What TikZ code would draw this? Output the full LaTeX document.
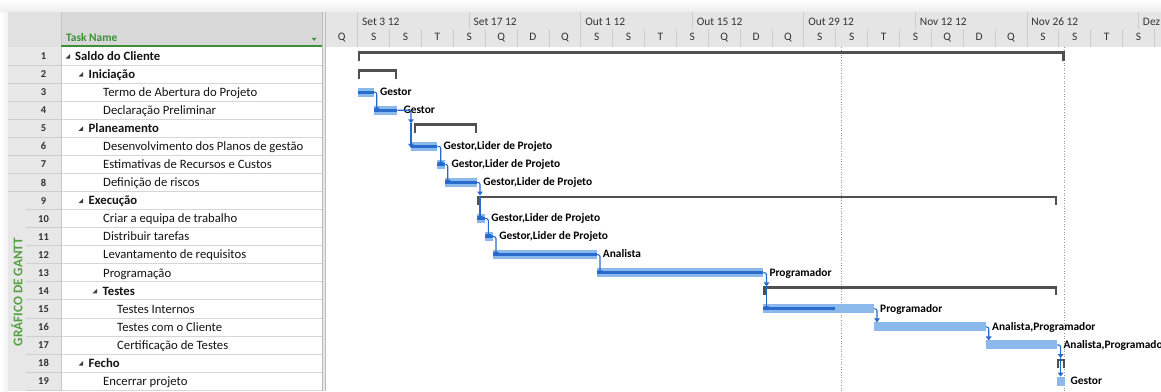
\documentclass[tikz,border=0pt]{standalone}
\usepackage{fontspec}
\setmainfont{Carlito}
\usetikzlibrary{arrows.meta}

\definecolor{barfill}{RGB}{140,185,235}
\definecolor{barprog}{RGB}{42,108,204}
\definecolor{linkblue}{RGB}{38,104,204}
\definecolor{sumgray}{RGB}{80,80,80}
\definecolor{taskhdr}{RGB}{216,216,216}
\definecolor{numhdr}{RGB}{225,225,225}
\definecolor{numcol}{RGB}{231,231,231}
\definecolor{tshdr}{RGB}{229,229,229}
\definecolor{gridline}{RGB}{214,214,214}
\definecolor{numline}{RGB}{206,206,206}
\definecolor{splitline}{RGB}{188,188,188}
\definecolor{tsline}{RGB}{205,205,205}
\definecolor{viewgreen}{RGB}{84,160,66}
\definecolor{hdrgreen}{RGB}{62,142,56}
\definecolor{hdrtext}{RGB}{50,50,50}
\definecolor{tricol}{RGB}{64,64,64}
\definecolor{dotgray}{RGB}{150,150,150}

% vertical centre of a table / chart row (rows are 18.06 units high)
\newcommand{\rowc}[1]{(47+(#1-0.5)*18.06)}

\tikzset{
  bar/.style={rectangle, fill=barfill, draw=none, inner sep=0pt, outer sep=0pt,
              minimum height=9pt, anchor=west},
  prog/.style={barprog, line width=3pt},
  link/.style={linkblue, line width=1.1pt, rounded corners=2pt,
               -{Triangle[width=5.5pt,length=4pt]}},
  summ/.style={sumgray, line width=2.6pt, line join=miter},
  barlbl/.style={anchor=base west, inner sep=0pt,
                 font=\fontsize{11.4}{13}\selectfont\bfseries, text=black},
  tname/.style={anchor=base west, inner sep=0pt,
                font=\fontsize{12.7}{15}\selectfont, text=black!92},
  numlbl/.style={anchor=base, inner sep=0pt,
                 font=\fontsize{10.5}{12}\selectfont\bfseries, text=hdrtext},
  tslbl/.style={anchor=base west, inner sep=0pt,
                font=\fontsize{11.4}{13}\selectfont, text=hdrtext},
}

% a task bar with its resource label
\newcommand{\taskbar}[4]{%
  \node[bar, minimum width={#3-#2}] (b#1) at (#2,{\rowc{#1}}) {};
  \node[barlbl] (l#1) at ({#3+6},{\rowc{#1}+3.3}) {#4};
}
% a summary bracket (optional first argument: stroke width)
\newcommand{\sumbar}[4][2.6]{%
  \draw[summ, line width=#1pt] ({#3+#1/2},{\rowc{#2}+4.5}) -- ({#3+#1/2},{\rowc{#2}-3.5})
    -- ({#4-#1/2},{\rowc{#2}-3.5}) -- ({#4-#1/2},{\rowc{#2}+4.5});
}
% outline collapse glyph in the task table
\newcommand{\collapse}[2]{%
  \fill[tricol] (#1,{\rowc{#2}+2.6}) -- ({#1+4.6},{\rowc{#2}+2.6})
    -- ({#1+4.6},{\rowc{#2}-2}) -- cycle;
}

\begin{document}
\begin{tikzpicture}[x=1pt,y=-1pt]
\useasboundingbox (0,0) rectangle (1161,391);
\clip (0,0) rectangle (1161,391);
\fill[white] (0,0) rectangle (1161,391);
\shade[top color=white,bottom color=black!7] (0,0) rectangle (1161,12);
\shade[left color=white,right color=black!5] (0,12) rectangle (8,391);

% ---------- header bands ----------
\fill[numhdr] (8,12) rectangle (61,47);
\fill[taskhdr] (61,12) rectangle (322,47);
\fill[tshdr] (326,12) rectangle (1161,47);
\fill[numcol] (8,47) rectangle (61,391);

% ---------- table grid ----------
\foreach \r in {1,...,19}
  \draw[gridline, line width=0.8pt] (61,{47+\r*18.06}) -- (322,{47+\r*18.06});
\foreach \r in {1,...,8}
  \draw[numline, line width=0.8pt] (8,{47+\r*18.06}) -- (61,{47+\r*18.06});
\foreach \r in {9,...,19}
  \draw[numline, line width=0.8pt] (26,{47+\r*18.06}) -- (61,{47+\r*18.06});
\draw[black!22, line width=0.8pt] (61,12) -- (61,391);

% splitter between table and chart
\fill[black!9] (322,12) rectangle (326,391);
\draw[splitline, line width=0.8pt] (322.5,12) -- (322.5,391) (325.6,12) -- (325.6,391);

% column header
\draw[hdrgreen, line width=2pt] (61,46) -- (322,46);
\node[anchor=base west, inner sep=0pt, font=\fontsize{11.4}{13}\selectfont\bfseries,
      text=hdrgreen] (hdr) at (66,41.5) {Task Name};
\fill[hdrgreen] (311.6,37.8) -- (316.6,37.8) -- (314.1,40.8) -- cycle;

% ---------- timescale ----------
\foreach \i in {0,...,7}
  \draw[tsline, line width=0.8pt] ({357.7+\i*111.54},12) -- ({357.7+\i*111.54},29);
\foreach \i in {0,...,25}
  \draw[tsline, line width=0.8pt] ({357.7+\i*31.87},29) -- ({357.7+\i*31.87},47);
\foreach \t [count=\i from 0] in {Set 3 12,Set 17 12,Out 1 12,Out 15 12,Out 29 12,Nov 12 12,Nov 26 12,Dez 10 12}
  \node[tslbl] (maj\i) at ({357.7+\i*111.54+4.3},25) {\t};
\foreach \d [count=\i from 0] in {Q,S,S,T,S,Q,D,Q,S,S,T,S,Q,D,Q,S,S,T,S,Q,D,Q,S,S,T,S}
  \node[tslbl, anchor=base] (min\i) at ({341.77+\i*31.87},40) {\d};

% ---------- view bar label and row numbers ----------
\node[rotate=90, anchor=base, inner sep=0pt, font=\fontsize{13.2}{15}\selectfont\bfseries,
      text=viewgreen] (viewbar) at (22.3,292) {GRÁFICO DE GANTT};
\foreach \r in {1,...,19}
  \node[numlbl] (n\r) at (43.5,{\rowc{\r}+3.6}) {\r};

% ---------- task names ----------
\collapse{65.5}{1}  \node[tname] (t1)  at (75,{\rowc{1}+4.3})  {\bfseries Saldo do Cliente};
\collapse{78.5}{2}  \node[tname] (t2)  at (88.5,{\rowc{2}+4.3}) {\bfseries Iniciação};
\node[tname] (t3)  at (103,{\rowc{3}+4.3})  {Termo de Abertura do Projeto};
\node[tname] (t4)  at (103,{\rowc{4}+4.3})  {Declaração Preliminar};
\collapse{78.5}{5}  \node[tname] (t5)  at (88.5,{\rowc{5}+4.3}) {\bfseries Planeamento};
\node[tname] (t6)  at (103,{\rowc{6}+4.3})  {Desenvolvimento dos Planos de gestão};
\node[tname] (t7)  at (103,{\rowc{7}+4.3})  {Estimativas de Recursos e Custos};
\node[tname] (t8)  at (103,{\rowc{8}+4.3})  {Definição de riscos};
\collapse{78.5}{9}  \node[tname] (t9)  at (88.5,{\rowc{9}+4.3}) {\bfseries Execução};
\node[tname] (t10) at (103,{\rowc{10}+4.3}) {Criar a equipa de trabalho};
\node[tname] (t11) at (103,{\rowc{11}+4.3}) {Distribuir tarefas};
\node[tname] (t12) at (103,{\rowc{12}+4.3}) {Levantamento de requisitos};
\node[tname] (t13) at (103,{\rowc{13}+4.3}) {Programação};
\collapse{92.5}{14} \node[tname] (t14) at (102.5,{\rowc{14}+4.3}) {\bfseries Testes};
\node[tname] (t15) at (117,{\rowc{15}+4.3}) {Testes Internos};
\node[tname] (t16) at (117,{\rowc{16}+4.3}) {Testes com o Cliente};
\node[tname] (t17) at (117,{\rowc{17}+4.3}) {Certificação de Testes};
\collapse{78.5}{18} \node[tname] (t18) at (88.5,{\rowc{18}+4.3}) {\bfseries Fecho};
\node[tname] (t19) at (103,{\rowc{19}+4.3}) {Encerrar projeto};

% ---------- chart markers ----------
\draw[dotgray, line width=0.9pt, dash pattern=on 1pt off 1.6pt] (841.7,47) -- (841.7,391);
\draw[dotgray, line width=0.9pt, dash pattern=on 1pt off 1.6pt] (1064.5,47) -- (1064.5,391);

% ---------- task bars ----------
\taskbar{3}{357.7}{374}{Gestor}
\taskbar{4}{374}{397.3}{Gestor}
\taskbar{6}{411}{437.4}{Gestor,Lider de Projeto}
\taskbar{7}{437.4}{445.3}{Gestor,Lider de Projeto}
\taskbar{8}{445.3}{477.2}{Gestor,Lider de Projeto}
\taskbar{10}{477.2}{485.2}{Gestor,Lider de Projeto}
\taskbar{11}{485.2}{493.1}{Gestor,Lider de Projeto}
\taskbar{12}{493.1}{596.7}{Analista}
\taskbar{13}{596.7}{763.3}{Programador}
\taskbar{15}{763.3}{874}{Programador}
\taskbar{16}{874}{986}{Analista,Programador}
\taskbar{17}{986}{1057.3}{Analista,Programador}
\taskbar{19}{1057.3}{1064.5}{Gestor}

% progress
\foreach \b in {3,4,6,7,8,10,11,12,13}
  \draw[prog] (b\b.west) -- (b\b.east);
\coordinate (p15) at (835,{\rowc{15}});
\draw[prog] (b15.west) -- (p15);

% ---------- summary brackets ----------
\sumbar{1}{357.7}{1064.5}
\sumbar{2}{357.7}{397.3}
\sumbar{5}{413.5}{477.2}
\sumbar{9}{477.2}{1057.3}
\sumbar{14}{763.3}{1057.3}
\sumbar[1.9]{18}{1056.8}{1065.2}

% ---------- links ----------
\coordinate (k4)  at (376.7,{\rowc{4}+1.5});
\coordinate (s5)  at (411,{\rowc{5}-5});
\coordinate (k6)  at (411,{\rowc{6}+1.5});
\coordinate (k7)  at (440.7,{\rowc{7}+1.5});
\coordinate (k8)  at (447.7,{\rowc{8}+1.5});
\coordinate (s9)  at (480,{\rowc{9}-5});
\coordinate (k10) at (480,{\rowc{10}+1.5});
\coordinate (k11) at (488.3,{\rowc{11}+1.5});
\coordinate (k12) at (496,{\rowc{12}+1.5});
\coordinate (k13) at (600,{\rowc{13}+1.5});
\coordinate (s14) at (766.5,{\rowc{14}-4.5});
\coordinate (k15) at (766.5,{\rowc{15}+1.5});
\coordinate (k16) at (877,{\rowc{16}-4.5});
\coordinate (k17) at (988.7,{\rowc{17}-4.5});
\coordinate (s18) at (1060.6,{\rowc{18}-5});
\coordinate (k19) at (1060.6,{\rowc{19}-4.5});

\draw[link] (b3.east) -| (k4);
\draw[link] (b4.east) -| (s5);
\draw[link] (s5) -- (k6);
\draw[link] (b6.east) -| (k7);
\draw[link] (b7.east) -| (k8);
\draw[link] (b8.east) -| (s9);
\draw[link] (s9) -- (k10);
\draw[link] (b10.east) -| (k11);
\draw[link] (b11.east) -| (k12);
\draw[link] (b12.east) -| (k13);
\draw[link] (b13.east) -| (s14);
\draw[link] (s14) -- (k15);
\draw[link] (b15.east) -| (k16);
\draw[link] (b16.east) -| (k17);
\draw[link] (b17.east) -| (s18);
\draw[link] (s18) -- (k19);
\end{tikzpicture}
\end{document}
